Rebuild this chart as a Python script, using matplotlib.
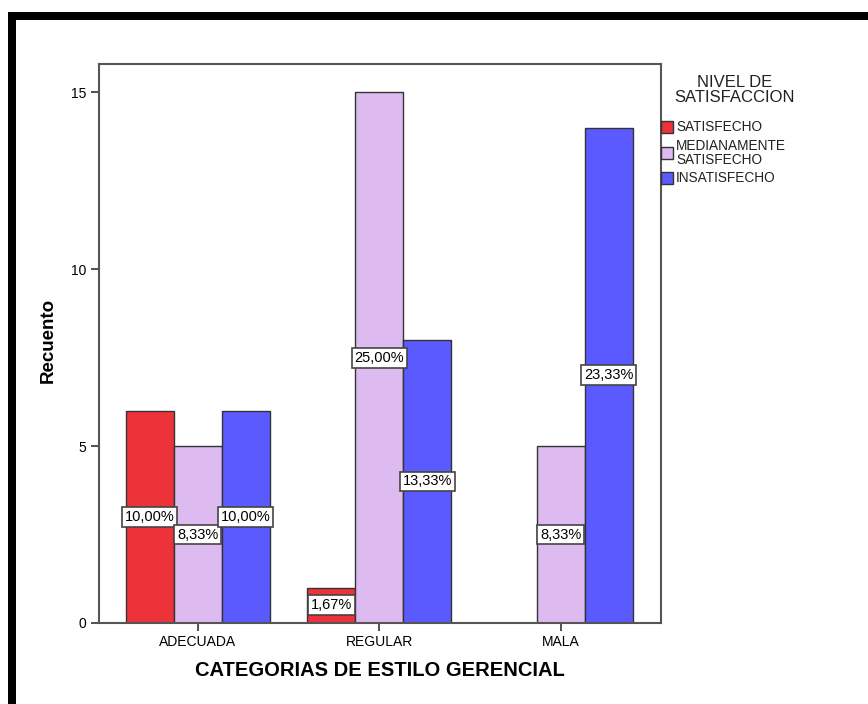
import numpy as np
import matplotlib.pyplot as plt
from matplotlib.patches import Rectangle

plt.rcParams['font.family'] = ['Liberation Sans', 'DejaVu Sans']

categorias = ["ADECUADA", "REGULAR", "MALA"]
niveles = ["SATISFECHO", "MEDIANAMENTE\nSATISFECHO", "INSATISFECHO"]
satisfecho = [6, 1, 0]
medianamente = [5, 15, 5]
insatisfecho = [6, 8, 14]
colores = ["#ee323a", "#ddbaf0", "#5a5aff"]

series = [satisfecho, medianamente, insatisfecho]
total = sum(sum(s) for s in series)

W, H = 868, 704
fig = plt.figure(figsize=(W/100, H/100), dpi=100)
ax = fig.add_axes([99/W, 1-623/H, 562/W, 559/H])

x = np.arange(len(categorias))
w = 0.264
for i, (vals, col) in enumerate(zip(series, colores)):
    pos = x + (i-1)*w
    for xp, v in zip(pos, vals):
        if v == 0:
            continue
        ax.bar(xp, v, w, color=col, edgecolor="#333333", linewidth=1)
        pct = f"{100*v/total:.2f}%".replace(".", ",")
        ax.text(xp, v/2, pct, ha="center", va="center", fontsize=10.5,
                bbox=dict(boxstyle="square,pad=0.2", fc="white", ec="#444444", lw=1.2))

ax.set_xlim(-0.543, 2.551)
ax.set_ylim(0, 15.8)
ax.set_yticks([0, 5, 10, 15])
ax.set_xticks(x)
ax.set_xticklabels(categorias)
ax.tick_params(length=6, color="#333333", labelsize=10, width=1.2, pad=3)
for s in ax.spines.values():
    s.set_color("#555555")
    s.set_linewidth(1.5)

fig.text(380/W, 1-671/H, "CATEGORIAS DE ESTILO GERENCIAL", ha="center",
         va="center", fontsize=14.5, fontweight="bold")
fig.text(48/W, 1-340/H, "Recuento", rotation=90, ha="center", va="center",
         fontsize=13.5, fontweight="bold")

# leyenda a la derecha
fig.text(735/W, 1-90/H, "NIVEL DE\nSATISFACCION", ha="center", va="center",
         fontsize=12, linespacing=1.0, color="#222222")
ys = [127, 153, 178]
for yc, nom, col in zip(ys, niveles, colores):
    fig.patches.append(Rectangle((661/W, 1-(yc+6)/H), 12/W, 12/H,
                                 transform=fig.transFigure, fc=col, ec="#333333", lw=1))
    fig.text(676/W, 1-yc/H, nom, ha="left", va="center", fontsize=9.8,
             linespacing=1.0, color="#222222")

# marco negro
fig.patches.append(Rectangle((8/W, 0), 8/W, 1-12/H, transform=fig.transFigure,
                             fc="black", ec="none"))
fig.patches.append(Rectangle((8/W, 1-20/H), (W-8)/W, 8/H, transform=fig.transFigure,
                             fc="black", ec="none"))

plt.savefig("out.png", dpi=100)
